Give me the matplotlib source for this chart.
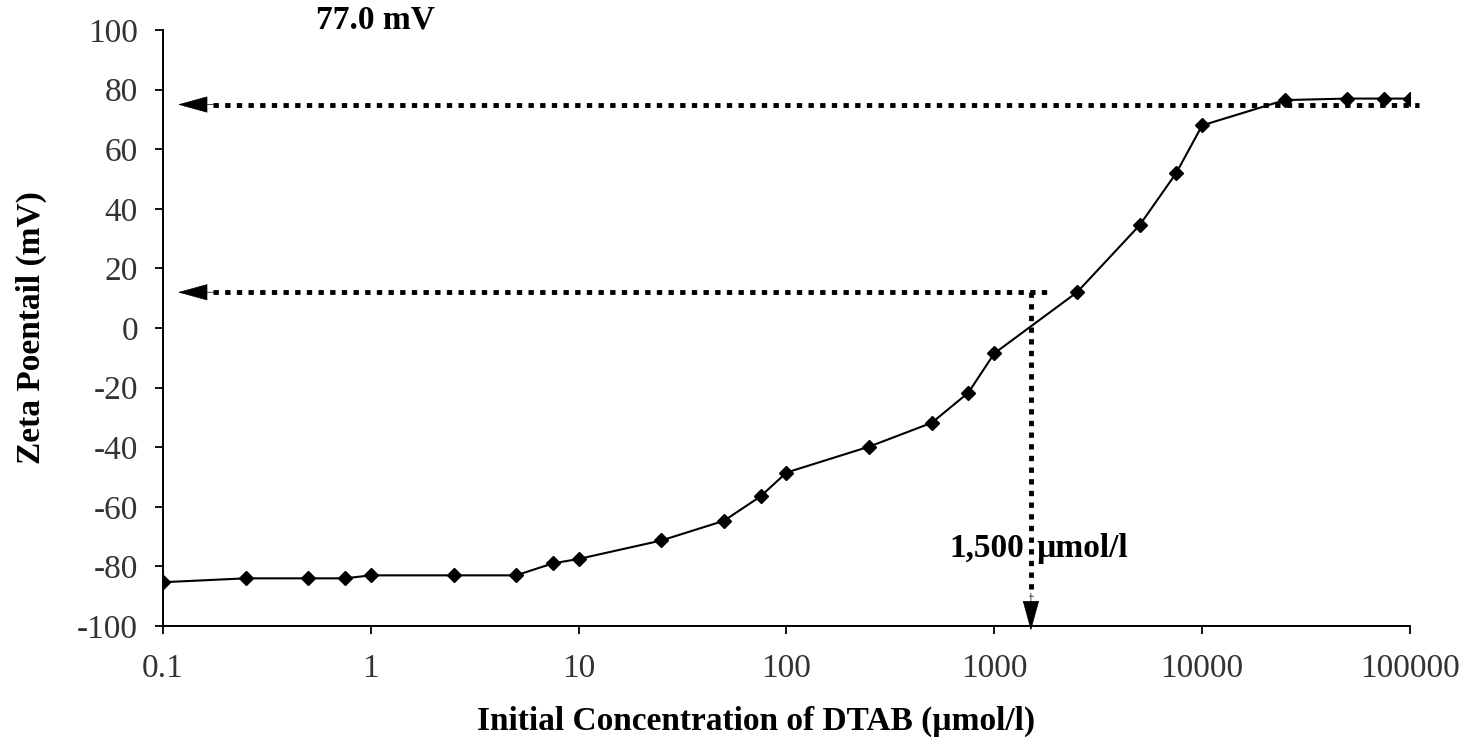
import numpy as np
import matplotlib
matplotlib.use("Agg")
import matplotlib.pyplot as plt
from matplotlib.ticker import FixedLocator, NullLocator

# data
conc = [0.1, 0.25, 0.5, 0.75, 1, 2.5, 5, 7.5, 10, 25, 50, 75, 100,
        250, 500, 750, 1000, 2500, 5000, 7500, 10000, 25000, 50000,
        75000, 100000]
zeta = [-85.3, -84.0, -84.0, -84.0, -83.0, -83.0, -83.0, -79.0, -77.5,
        -71.3, -64.7, -56.5, -48.5, -39.8, -31.8, -21.7, -8.5, 12.0,
        34.5, 52.0, 68.0, 76.5, 77.0, 77.0, 77.0]

x_ticks = [0.1, 1, 10, 100, 1000, 10000, 100000]
x_ticklabels = ["0.1", "1", "10", "100", "1000", "10000", "100000"]
y_ticks = [-100, -80, -60, -40, -20, 0, 20, 40, 60, 80, 100]
y_ticklabels = ["-100", "-80", "-60", "-40", "-20", "0", "20", "40",
                "60", "80", "100"]

plateau = 75.0      # dotted guide for the plateau
cross_y = 12.0      # dotted guide for the zero crossing
cross_x = 1500.0

plt.rcParams["font.family"] = ["Liberation Serif", "DejaVu Serif"]
plt.rcParams["axes.unicode_minus"] = False

fig = plt.figure(figsize=(14.68, 7.49), dpi=100)
ax = fig.add_axes([0.1110, 0.1642, 0.8495, 0.7957])

ax.plot(conc, zeta, color="black", lw=1.5, marker="D", markersize=7.5,
        markerfacecolor="black", markeredgecolor="black", zorder=4)

ax.set_xscale("log")
ax.set_xlim(0.1, 100000)
ax.set_ylim(-100, 100)

ax.xaxis.set_major_locator(FixedLocator(x_ticks))
ax.xaxis.set_minor_locator(NullLocator())
ax.set_xticklabels(x_ticklabels)
ax.set_yticks(y_ticks)
ax.set_yticklabels(y_ticklabels)
ax.tick_params(axis="both", direction="out", length=6, width=1.3,
               labelsize=24, colors="black", labelcolor="#333333")
ax.tick_params(axis="y", pad=12)
ax.tick_params(axis="x", pad=14)

for side in ["top", "right"]:
    ax.spines[side].set_visible(False)
for side in ["left", "bottom"]:
    ax.spines[side].set_linewidth(1.4)

ax.set_ylabel("Zeta Poentail (mV)", fontsize=24, fontweight="bold")
ax.yaxis.set_label_coords(-0.093, 0.5)
ax.set_xlabel("Initial Concentration of DTAB (\u00b5mol/l)", fontsize=24,
              fontweight="bold")
ax.xaxis.set_label_coords(0.476, -0.133)

dots = dict(color="black", lw=3.5, linestyle=(0, (1.1, 1.3)), clip_on=False,
            solid_capstyle="butt", dash_capstyle="butt", zorder=3)
head = dict(arrowstyle="-|>,head_length=2.0,head_width=0.55", color="black",
            lw=0.5, shrinkA=0, shrinkB=0)

# plateau guide with arrow to the y axis
ax.plot([0.175, 110000], [plateau, plateau], **dots)
ax.annotate("", xy=(0.118, plateau), xytext=(0.18, plateau),
            arrowprops=head, annotation_clip=False)

# zero crossing guides
ax.plot([0.175, 1800], [cross_y, cross_y], **dots)
ax.annotate("", xy=(0.118, cross_y), xytext=(0.18, cross_y),
            arrowprops=head, annotation_clip=False)
ax.plot([cross_x, cross_x], [cross_y, -90], **dots)
ax.annotate("", xy=(cross_x, -101.5), xytext=(cross_x, -89),
            arrowprops=head, annotation_clip=False)

ax.annotate("1,500", xy=(cross_x, -74), xytext=(-5, 0),
            textcoords="offset points", ha="right", va="center",
            fontsize=24, fontweight="bold")
ax.annotate("\u00b5mol/l", xy=(cross_x, -74), xytext=(4, 0),
            textcoords="offset points", ha="left", va="center",
            fontsize=24, fontweight="bold")

ax.text(1.05, 103.5, "77.0 mV", ha="center", va="center", fontsize=24,
        fontweight="bold")

fig.savefig("out.png", dpi=100, facecolor="white")
